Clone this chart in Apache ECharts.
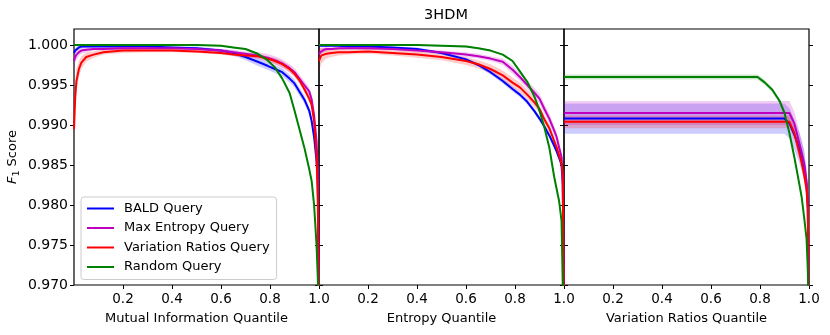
<!DOCTYPE html>
<html>
<head>
<meta charset="utf-8">
<script src="https://cdn.jsdelivr.net/npm/echarts@6/dist/echarts.min.js"></script>
<style>
html, body { margin: 0; padding: 0; background: #fff; }
#chart { width: 830px; height: 335px; }
</style>
</head>
<body>
<div id="chart"></div>
<script>
// quantile grid shared by all three panels
var quantiles = [0, 0.005, 0.01, 0.02, 0.03, 0.05, 0.08, 0.12, 0.2, 0.3, 0.4, 0.5, 0.6, 0.65, 0.7,
  0.75, 0.79, 0.82, 0.85, 0.88, 0.9, 0.92, 0.94, 0.96, 0.97, 0.98, 0.99, 0.995, 1.0];

var methods = ['BALD Query', 'Max Entropy Query', 'Variation Ratios Query', 'Random Query'];
var xTicks = [0.2, 0.4, 0.6, 0.8, 1.0];
var yTicks = [0.970, 0.975, 0.980, 0.985, 0.990, 0.995, 1.000];

// Mutual Information Quantile panel
var miBald = [0.9990, 0.9993, 0.9995, 0.9997, 0.9998, 0.9998, 0.9998, 0.9998, 0.9998, 0.9998,
  0.9997, 0.9996, 0.9993, 0.9990, 0.9985, 0.9979, 0.9974, 0.9970, 0.9966, 0.9958,
  0.9952, 0.9942, 0.9932, 0.9918, 0.9905, 0.9885, 0.9855, 0.9830, 0.9650];
var miMaxEnt = [0.9980, 0.9985, 0.9988, 0.9991, 0.9993, 0.9994, 0.9995, 0.9995, 0.9996, 0.9996,
  0.9996, 0.9995, 0.9993, 0.9991, 0.9989, 0.9987, 0.9984, 0.9981, 0.9977, 0.9971,
  0.9966, 0.9958, 0.9950, 0.9942, 0.9932, 0.9912, 0.9880, 0.9845, 0.9650];
var miVarRatio = [0.9895, 0.9935, 0.9955, 0.9970, 0.9978, 0.9985, 0.9988, 0.9991, 0.9993, 0.9993,
  0.9993, 0.9992, 0.9990, 0.9988, 0.9987, 0.9986, 0.9983, 0.9980, 0.9976, 0.9970,
  0.9964, 0.9956, 0.9945, 0.9933, 0.9925, 0.9905, 0.9860, 0.9810, 0.9650];
var miRandom = [1.0000, 1.0000, 1.0000, 1.0000, 1.0000, 1.0000, 1.0000, 1.0000, 1.0000, 1.0000,
  1.0000, 1.0000, 0.9999, 0.9997, 0.9995, 0.9989, 0.9981, 0.9972, 0.9958, 0.9940,
  0.9918, 0.9895, 0.9872, 0.9845, 0.9830, 0.9800, 0.9750, 0.9710, 0.9650];
var miBaldStd = [0.0004, 0.0003, 0.0003, 0.0002, 0.0002, 0.0001, 0.0001, 0.0001, 0.0001, 0.0001,
  0.0001, 0.0002, 0.0002, 0.0003, 0.0004, 0.0005, 0.0005, 0.0005, 0.0005, 0.0005,
  0.0005, 0.0005, 0.0005, 0.0005, 0.0005, 0.0005, 0.0005, 0.0005, 0.0005];
var miMaxEntStd = [0.0008, 0.0007, 0.0006, 0.0005, 0.0004, 0.0003, 0.0002, 0.0002, 0.0002, 0.0002,
  0.0002, 0.0002, 0.0002, 0.0003, 0.0003, 0.0004, 0.0005, 0.0005, 0.0005, 0.0005,
  0.0005, 0.0005, 0.0005, 0.0005, 0.0005, 0.0005, 0.0005, 0.0005, 0.0005];
var miVarRatioStd = [0.0020, 0.0018, 0.0015, 0.0010, 0.0008, 0.0006, 0.0004, 0.0003, 0.0003, 0.0002,
  0.0002, 0.0002, 0.0002, 0.0002, 0.0003, 0.0003, 0.0003, 0.0004, 0.0004, 0.0004,
  0.0004, 0.0004, 0.0004, 0.0004, 0.0004, 0.0004, 0.0004, 0.0004, 0.0004];
var miRandomStd = [0.0001, 0.0001, 0.0001, 0.0001, 0.0001, 0.0001, 0.0001, 0.0001, 0.0001, 0.0001,
  0.0001, 0.0001, 0.0001, 0.0001, 0.0001, 0.0001, 0.0001, 0.0001, 0.0001, 0.0001,
  0.0001, 0.0001, 0.0001, 0.0001, 0.0001, 0.0001, 0.0001, 0.0001, 0.0001];

// Entropy Quantile panel
var entBald = [0.9999, 0.9999, 0.9999, 0.9999, 0.9999, 0.9999, 0.9999, 0.9998, 0.9998, 0.9997,
  0.9995, 0.9990, 0.9982, 0.9975, 0.9966, 0.9955, 0.9945, 0.9938, 0.9929, 0.9917,
  0.9908, 0.9898, 0.9887, 0.9874, 0.9867, 0.9859, 0.9850, 0.9825, 0.9650];
var entMaxEnt = [0.9988, 0.9991, 0.9993, 0.9994, 0.9995, 0.9995, 0.9996, 0.9996, 0.9996, 0.9995,
  0.9993, 0.9991, 0.9988, 0.9986, 0.9983, 0.9979, 0.9969, 0.9960, 0.9950, 0.9940,
  0.9933, 0.9920, 0.9908, 0.9893, 0.9885, 0.9872, 0.9860, 0.9835, 0.9650];
var entVarRatio = [0.9980, 0.9984, 0.9987, 0.9988, 0.9989, 0.9990, 0.9991, 0.9991, 0.9992, 0.9990,
  0.9988, 0.9985, 0.9980, 0.9976, 0.9970, 0.9962, 0.9953, 0.9947, 0.9938, 0.9928,
  0.9920, 0.9907, 0.9896, 0.9880, 0.9872, 0.9862, 0.9852, 0.9835, 0.9650];
var entRandom = [1.0000, 1.0000, 1.0000, 1.0000, 1.0000, 1.0000, 1.0000, 1.0000, 1.0000, 1.0000,
  1.0000, 0.9999, 0.9998, 0.9996, 0.9993, 0.9988, 0.9980, 0.9967, 0.9954, 0.9935,
  0.9918, 0.9897, 0.9872, 0.9835, 0.9820, 0.9805, 0.9780, 0.9700, 0.9650];
var entBaldStd = [0.0001, 0.0001, 0.0001, 0.0001, 0.0001, 0.0001, 0.0001, 0.0001, 0.0001, 0.0001,
  0.0002, 0.0002, 0.0002, 0.0002, 0.0003, 0.0003, 0.0003, 0.0003, 0.0003, 0.0003,
  0.0003, 0.0003, 0.0003, 0.0003, 0.0003, 0.0003, 0.0003, 0.0003, 0.0003];
var entMaxEntStd = [0.0006, 0.0005, 0.0004, 0.0003, 0.0003, 0.0002, 0.0002, 0.0002, 0.0002, 0.0002,
  0.0002, 0.0002, 0.0003, 0.0003, 0.0003, 0.0004, 0.0005, 0.0005, 0.0005, 0.0006,
  0.0006, 0.0006, 0.0006, 0.0006, 0.0006, 0.0006, 0.0006, 0.0006, 0.0006];
var entVarRatioStd = [0.0015, 0.0012, 0.0010, 0.0008, 0.0006, 0.0005, 0.0004, 0.0003, 0.0003, 0.0003,
  0.0004, 0.0004, 0.0005, 0.0005, 0.0006, 0.0006, 0.0006, 0.0006, 0.0006, 0.0006,
  0.0005, 0.0005, 0.0005, 0.0005, 0.0005, 0.0005, 0.0005, 0.0005, 0.0005];
var entRandomStd = [0.0001, 0.0001, 0.0001, 0.0001, 0.0001, 0.0001, 0.0001, 0.0001, 0.0001, 0.0001,
  0.0001, 0.0001, 0.0001, 0.0001, 0.0001, 0.0001, 0.0001, 0.0001, 0.0001, 0.0001,
  0.0001, 0.0001, 0.0001, 0.0001, 0.0001, 0.0001, 0.0001, 0.0001, 0.0001];

// Variation Ratios Quantile panel
var vrBald = [0.9908, 0.9908, 0.9908, 0.9908, 0.9908, 0.9908, 0.9908, 0.9908, 0.9908, 0.9908,
  0.9908, 0.9908, 0.9908, 0.9908, 0.9908, 0.9908, 0.9908, 0.9908, 0.9908, 0.9908,
  0.9908, 0.9902, 0.9888, 0.9872, 0.9862, 0.9850, 0.9825, 0.9800, 0.9650];
var vrMaxEnt = [0.9915, 0.9915, 0.9915, 0.9915, 0.9915, 0.9915, 0.9915, 0.9915, 0.9915, 0.9915,
  0.9915, 0.9915, 0.9915, 0.9915, 0.9915, 0.9915, 0.9915, 0.9915, 0.9915, 0.9915,
  0.9915, 0.9915, 0.9902, 0.9878, 0.9866, 0.9852, 0.9830, 0.9805, 0.9650];
var vrVarRatio = [0.9904, 0.9904, 0.9904, 0.9904, 0.9904, 0.9904, 0.9904, 0.9904, 0.9904, 0.9904,
  0.9904, 0.9904, 0.9904, 0.9904, 0.9904, 0.9904, 0.9904, 0.9904, 0.9904, 0.9904,
  0.9904, 0.9904, 0.9890, 0.9866, 0.9853, 0.9838, 0.9820, 0.9795, 0.9650];
var vrRandom = [0.9960, 0.9960, 0.9960, 0.9960, 0.9960, 0.9960, 0.9960, 0.9960, 0.9960, 0.9960,
  0.9960, 0.9960, 0.9960, 0.9960, 0.9960, 0.9960, 0.9960, 0.9953, 0.9944, 0.9930,
  0.9915, 0.9890, 0.9860, 0.9827, 0.9810, 0.9785, 0.9758, 0.9720, 0.9650];
var vrBaldStd = [0.0019, 0.0019, 0.0019, 0.0019, 0.0019, 0.0019, 0.0019, 0.0019, 0.0019, 0.0019,
  0.0019, 0.0019, 0.0019, 0.0019, 0.0019, 0.0019, 0.0019, 0.0019, 0.0019, 0.0019,
  0.0019, 0.0019, 0.0019, 0.0019, 0.0019, 0.0019, 0.0019, 0.0019, 0.0019];
var vrMaxEntStd = [0.0015, 0.0015, 0.0015, 0.0015, 0.0015, 0.0015, 0.0015, 0.0015, 0.0015, 0.0015,
  0.0015, 0.0015, 0.0015, 0.0015, 0.0015, 0.0015, 0.0015, 0.0015, 0.0015, 0.0015,
  0.0015, 0.0015, 0.0015, 0.0015, 0.0015, 0.0015, 0.0015, 0.0015, 0.0015];
var vrVarRatioStd = [0.0008, 0.0008, 0.0008, 0.0008, 0.0008, 0.0008, 0.0008, 0.0008, 0.0008, 0.0008,
  0.0008, 0.0008, 0.0008, 0.0008, 0.0008, 0.0008, 0.0008, 0.0008, 0.0008, 0.0008,
  0.0008, 0.0008, 0.0008, 0.0008, 0.0008, 0.0008, 0.0008, 0.0008, 0.0008];
var vrRandomStd = [0.0003, 0.0003, 0.0003, 0.0003, 0.0003, 0.0003, 0.0003, 0.0003, 0.0003, 0.0003,
  0.0003, 0.0003, 0.0003, 0.0003, 0.0003, 0.0003, 0.0003, 0.0003, 0.0003, 0.0003,
  0.0003, 0.0003, 0.0003, 0.0003, 0.0003, 0.0003, 0.0003, 0.0003, 0.0003];

var myChart = echarts.init(document.getElementById('chart'));
var FONT = 'DejaVu Sans';
var colors = ['#0000ff', '#bf00bf', '#ff0000', '#008000'];
var bandColors = ['rgba(0,0,255,0.2)', 'rgba(191,0,191,0.2)', 'rgba(255,0,0,0.2)', 'rgba(0,128,0,0.2)'];

var panels = [
  { title: 'Mutual Information Quantile',
    means: [miBald, miMaxEnt, miVarRatio, miRandom],
    stds: [miBaldStd, miMaxEntStd, miVarRatioStd, miRandomStd] },
  { title: 'Entropy Quantile',
    means: [entBald, entMaxEnt, entVarRatio, entRandom],
    stds: [entBaldStd, entMaxEntStd, entVarRatioStd, entRandomStd] },
  { title: 'Variation Ratios Quantile',
    means: [vrBald, vrMaxEnt, vrVarRatio, vrRandom],
    stds: [vrBaldStd, vrMaxEntStd, vrVarRatioStd, vrRandomStd] }
];
var lefts = [74, 319, 564];

// one polygon per band: upper edge left->right, lower edge back
function bandRenderer(fill) {
  return function(params, api) {
    if (params.dataIndexInside !== 0) return null;
    var n = params.dataInsideLength, pts = [], i;
    for (i = 0; i < n; i++) pts.push(api.coord([api.value(0, i), api.value(2, i)]));
    for (i = n - 1; i >= 0; i--) pts.push(api.coord([api.value(0, i), api.value(1, i)]));
    return { type: 'polygon', shape: { points: pts }, style: { fill: fill }, silent: true };
  };
}

var grids = [], xAxes = [], yAxes = [], series = [];

panels.forEach(function(p, k) {
  grids.push({
    left: lefts[k], width: 245, top: 29, height: 256,
    show: true, borderColor: '#000', borderWidth: 1.2, backgroundColor: 'transparent'
  });
  xAxes.push({
    gridIndex: k, type: 'value', min: 0, max: 1,
    name: p.title, nameLocation: 'middle', nameGap: 27,
    nameTextStyle: { fontFamily: FONT, fontSize: 13, color: '#000' },
    axisLine: { show: false },
    axisTick: { show: true, length: 4, lineStyle: { color: '#000' }, customValues: xTicks },
    axisLabel: {
      fontFamily: FONT, fontSize: 13.5, color: '#000', margin: 7,
      customValues: xTicks,
      formatter: function(v) { return v.toFixed(1); }
    },
    splitLine: { show: false }
  });
  // left y axis (labels only on the first panel)
  yAxes.push({
    gridIndex: k, type: 'value', min: 0.970, max: 1.002, position: 'left',
    name: k === 0 ? '{i|F}{s|1}{n| Score}' : '',
    nameLocation: 'middle', nameGap: 52,
    nameTextStyle: {
      fontFamily: FONT, color: '#000',
      rich: {
        i: { fontFamily: FONT, fontStyle: 'italic', fontSize: 13, color: '#000', lineHeight: 18, verticalAlign: 'middle' },
        s: { fontFamily: FONT, fontSize: 9.5, color: '#000', lineHeight: 18, verticalAlign: 'bottom' },
        n: { fontFamily: FONT, fontSize: 13, color: '#000', lineHeight: 18, verticalAlign: 'middle' }
      }
    },
    axisLine: { show: false },
    axisTick: { show: true, length: 4, lineStyle: { color: '#000' }, customValues: yTicks },
    axisLabel: {
      show: k === 0, fontFamily: FONT, fontSize: 14, color: '#000', margin: 6,
      customValues: yTicks,
      formatter: function(v) { return v.toFixed(3); }
    },
    splitLine: { show: false }
  });
  // right y axis: ticks only
  yAxes.push({
    gridIndex: k, type: 'value', min: 0.970, max: 1.002, position: 'right',
    axisLine: { show: false },
    axisTick: { show: true, length: 4, lineStyle: { color: '#000' }, customValues: yTicks },
    axisLabel: { show: false },
    splitLine: { show: false }
  });

  // shaded bands (mean +/- spread)
  methods.forEach(function(m, j) {
    var mean = p.means[j], sd = p.stds[j];
    series.push({
      type: 'custom', name: '_band' + k + j, xAxisIndex: k, yAxisIndex: 2 * k,
      clip: true, silent: true, z: 1,
      encode: { x: 0, y: [1, 2] },
      data: quantiles.map(function(q, i) { return [q, mean[i] - sd[i], mean[i] + sd[i]]; }),
      renderItem: bandRenderer(bandColors[j])
    });
  });
  // mean lines
  methods.forEach(function(m, j) {
    var mean = p.means[j];
    series.push({
      type: 'line', name: m, xAxisIndex: k, yAxisIndex: 2 * k,
      data: quantiles.map(function(q, i) { return [q, mean[i]]; }),
      symbol: 'none', showSymbol: false,
      lineStyle: { color: colors[j], width: 2 },
      itemStyle: { color: colors[j] }, z: 3
    });
  });
});

var option = {
  animation: false,
  backgroundColor: '#fff',
  textStyle: { fontFamily: FONT },
  title: {
    text: '3HDM', left: 441, top: 3, textAlign: 'center',
    textStyle: { fontFamily: FONT, fontSize: 14.5, fontWeight: 'normal', color: '#000' }
  },
  legend: {
    data: methods, orient: 'vertical', left: 81, top: 197,
    icon: 'rect', itemWidth: 27, itemHeight: 2, itemGap: 6.5,
    padding: [5, 7, 6, 6],
    borderColor: '#cccccc', borderWidth: 1, borderRadius: 3,
    backgroundColor: 'rgba(255,255,255,0.8)',
    textStyle: { fontFamily: FONT, fontSize: 13, color: '#000', padding: [0, 0, 0, 5] }
  },
  grid: grids,
  xAxis: xAxes,
  yAxis: yAxes,
  series: series
};
myChart.setOption(option);
</script>
</body>
</html>
